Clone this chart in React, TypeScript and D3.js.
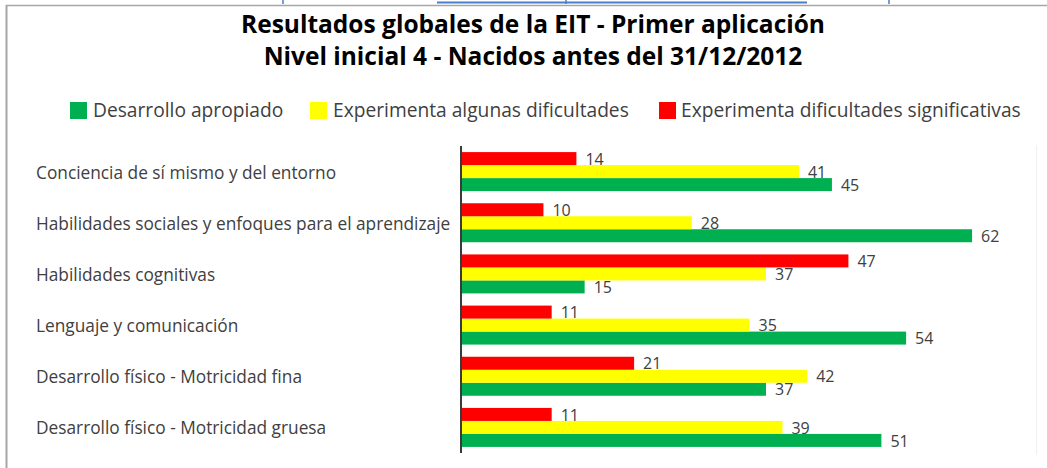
import React from "react";
import * as d3 from "d3";

const categories = [
  "Conciencia de sí mismo y del entorno",
  "Habilidades sociales y enfoques para el aprendizaje",
  "Habilidades cognitivas",
  "Lenguaje y comunicación",
  "Desarrollo físico - Motricidad fina",
  "Desarrollo físico - Motricidad gruesa",
];
const seriesNames = [
  "Desarrollo apropiado",
  "Experimenta algunas dificultades",
  "Experimenta dificultades significativas",
];
const desarrolloApropiado = [45, 62, 15, 54, 37, 51];
const algunasDificultades = [41, 28, 37, 35, 42, 39];
const dificultadesSignificativas = [14, 10, 47, 11, 21, 11];
const seriesColors = ["#00B050", "#FFFF00", "#FF0000"];
const titleLines = [
  "Resultados globales de la EIT - Primer aplicación",
  "Nivel inicial 4 - Nacidos antes del 31/12/2012",
];

const W = 1047;
const H = 468;
const FONT = "'Open Sans', sans-serif";
const TEXT = "#404040";

export default function App() {
  const seriesValues = [desarrolloApropiado, algunasDificultades, dificultadesSignificativas];
  const x = d3.scaleLinear().domain([0, 70]).range([461, 1038]);
  const y = d3
    .scaleBand<string>()
    .domain(categories)
    .range([146, 453])
    .paddingInner(0.238)
    .paddingOuter(0.119);
  // red on top, then yellow, then green
  const inner = d3
    .scaleBand<number>()
    .domain([2, 1, 0])
    .range([0, y.bandwidth()]);

  const legendItems = [
    { sx: 70, tx: 93 },
    { sx: 310, tx: 333 },
    { sx: 659, tx: 681 },
  ];

  return (
    <svg
      width={W}
      height={H}
      style={{ position: "absolute", left: 0, top: 0, background: "#fff" }}
      fontFamily={FONT}
    >
      <rect x={0} y={0} width={W} height={H} fill="#fff" />
      {/* cut-off hyperlink remnants */}
      <line x1={437} x2={807} y1={2.5} y2={2.5} stroke="#4A7EC7" strokeWidth={2} />
      <line x1={283} x2={283} y1={0} y2={4} stroke="#4A7EC7" strokeWidth={1.5} />
      <line x1={566} x2={566} y1={0} y2={4} stroke="#4A7EC7" strokeWidth={1.5} />
      <line x1={889} x2={889} y1={0} y2={4} stroke="#4A7EC7" strokeWidth={1.5} />
      {/* frame */}
      <line x1={6} x2={W} y1={5.5} y2={5.5} stroke="#A6A6A6" strokeWidth={1.5} />
      <line x1={6.5} x2={6.5} y1={5} y2={H} stroke="#A6A6A6" strokeWidth={2} />

      {/* title */}
      {titleLines.map((t, i) => (
        <text
          key={i}
          x={533}
          y={32.5 + i * 32}
          textAnchor="middle"
          fontWeight="bold"
          fontSize={24.5}
          fill="#000"
        >
          {t}
        </text>
      ))}

      {/* legend */}
      {seriesNames.map((name, i) => (
        <g key={name}>
          <rect x={legendItems[i].sx} y={102} width={17} height={17} fill={seriesColors[i]} />
          <text x={legendItems[i].tx} y={110.5} dy="0.35em" fontSize={19.2} fill={TEXT}>
            {name}
          </text>
        </g>
      ))}

      {/* plot area border (right) */}
      <line x1={1036.5} x2={1036.5} y1={145} y2={455} stroke="#F0F0F0" strokeWidth={1} />

      {/* category labels */}
      {categories.map((c) => (
        <text
          key={c}
          x={36}
          y={(y(c) ?? 0) + y.bandwidth() / 2 + 1}
          dy="0.35em"
          fontSize={17.3}
          fill={TEXT}
        >
          {c}
        </text>
      ))}

      {/* bars */}
      {categories.map((c, ci) =>
        [0, 1, 2].map((si) => {
          const v = seriesValues[si][ci];
          const by = (y(c) ?? 0) + (inner(si) ?? 0);
          const bh = inner.bandwidth();
          return (
            <g key={c + si}>
              <rect
                x={x(0)}
                y={by}
                width={x(v) - x(0)}
                height={bh}
                fill={seriesColors[si]}
              />
              <text
                x={x(v) + 9}
                y={by + bh / 2 + 0.5}
                dy="0.35em"
                fontSize={16}
                fill={TEXT}
              >
                {v}
              </text>
            </g>
          );
        })
      )}

      {/* vertical axis */}
      <line x1={x(0)} x2={x(0)} y1={146} y2={453} stroke="#3A3A3A" strokeWidth={2} />
    </svg>
  );
}
